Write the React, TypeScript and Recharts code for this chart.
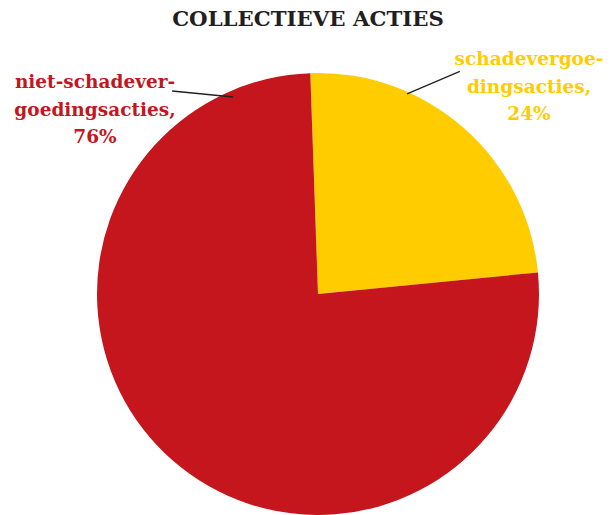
import React from "react"
import { PieChart, Pie, Cell } from "recharts"

const categories = ["schadevergoedingsacties", "niet-schadevergoedingsacties"]
const shares = [24, 76]
const labelLines = [
  ["schadevergoe-", "dingsacties,"],
  ["niet-schadever-", "goedingsacties,"],
]
const colors = ["#FFCC00", "#C4161C"]

const data = categories.map((name, i) => ({ name, value: shares[i] }))

// label placement relative to pie centre
const labelLayout = [
  { dx: 211, dy: -229, lineFrom: [66, 219], lineTo: [57.5, 264] },
  { dx: -223, dy: -206, lineFrom: [113.3, 214.5], lineTo: [125.7, 250] },
]

const RAD = Math.PI / 180
const polar = (cx: number, cy: number, angle: number, r: number) => [
  cx + r * Math.cos(angle * RAD),
  cy - r * Math.sin(angle * RAD),
]

const FONT = "'DejaVu Serif', serif"

function renderLabel(props: any) {
  const { cx, cy, index, value } = props
  const layout = labelLayout[index]
  const [x1, y1] = polar(cx, cy, layout.lineFrom[0], layout.lineFrom[1])
  const [x2, y2] = polar(cx, cy, layout.lineTo[0], layout.lineTo[1])
  const tx = cx + layout.dx
  const ty = cy + layout.dy
  const lines = [...labelLines[index], `${value}%`]
  return (
    <g key={`label-${index}`}>
      <line x1={x1} y1={y1} x2={x2} y2={y2} stroke="#222" strokeWidth={1.3} />
      <text
        x={tx}
        y={ty}
        textAnchor="middle"
        fill={colors[index]}
        fontFamily={FONT}
        fontWeight="bold"
        fontSize={18.5}
      >
        {lines.map((l, i) => (
          <tspan key={i} x={tx} dy={i === 0 ? 0 : 27.5}>
            {l}
          </tspan>
        ))}
      </text>
    </g>
  )
}

export default function App() {
  return (
    <div style={{ position: "absolute", left: 0, top: 0, width: 613, height: 515, background: "#fff" }}>
      <PieChart width={613} height={515} margin={{ top: 0, right: 0, bottom: 0, left: 0 }}>
        <text
          x={308}
          y={26}
          textAnchor="middle"
          fill="#231F20"
          fontFamily={FONT}
          fontWeight="bold"
          fontSize={21.3}
        >
          COLLECTIEVE ACTIES
        </text>
        <Pie
          data={data}
          dataKey="value"
          nameKey="name"
          cx={318}
          cy={294}
          outerRadius={221}
          startAngle={92}
          endAngle={-268}
          stroke="none"
          label={renderLabel}
          labelLine={false}
          isAnimationActive={false}
        >
          {data.map((d, i) => (
            <Cell key={d.name} fill={colors[i]} />
          ))}
        </Pie>
      </PieChart>
    </div>
  )
}
